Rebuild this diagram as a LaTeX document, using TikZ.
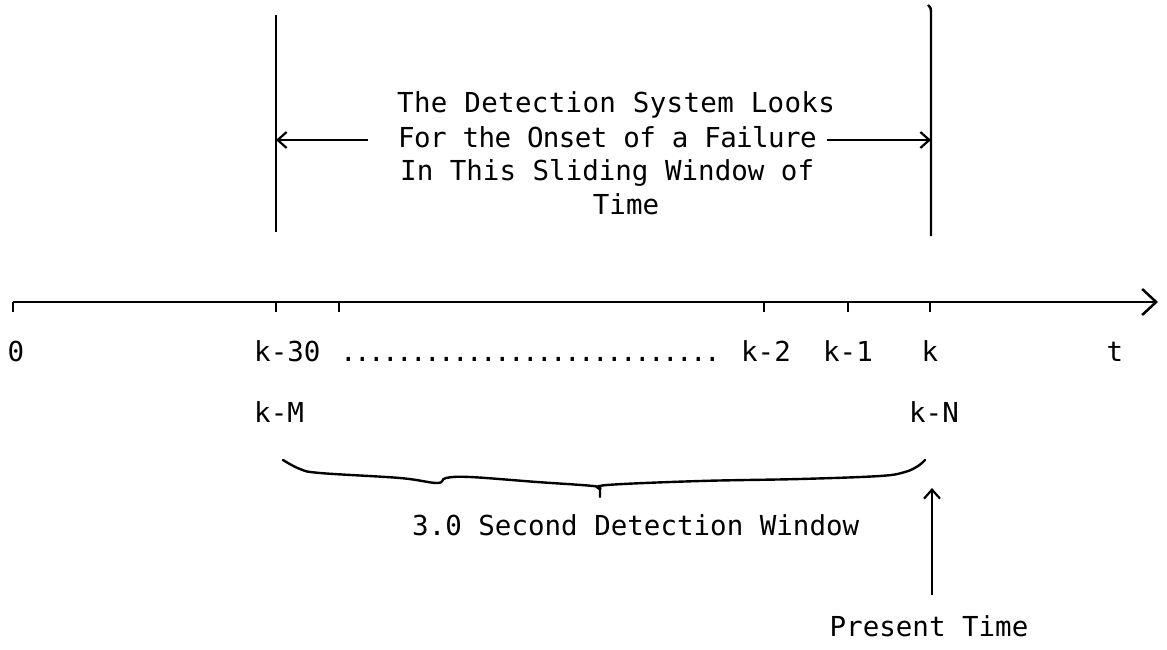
\documentclass[tikz,border=0pt]{standalone}
\usepackage{fontspec}
\setmainfont{DejaVu Sans Mono}
\usetikzlibrary{arrows.meta}
\begin{document}
\begin{tikzpicture}[x=1pt,y=-1pt,
  font=\fontsize{27.5}{35}\selectfont,
  lbl/.style={inner sep=0pt},
  ln/.style={line width=2.4pt},
  barb/.style={line width=2.4pt,-{Straight Barb[length=9pt,width=16pt,line width=2.2pt]}}]
\useasboundingbox (0,0) rectangle (1167,650);

% time axis
\coordinate (a0) at (13,302);
\coordinate (aend) at (1158,302);
\draw[line width=2.8pt,-{Straight Barb[length=14pt,width=26pt,line width=2.5pt]}] (a0) -- (aend);
\foreach \x/\n in {13/t0,276/t30,339/t29,764/t2,848/t1,930/tk}{
  \coordinate (\n) at (\x,302);
  \draw[ln] (\n) -- ++(0,10);
}

% window boundaries
\coordinate (wl0) at (276,15);
\coordinate (wl1) at (276,232);
\coordinate (wr0) at (928,5);
\coordinate (wr1) at (931,236);
\draw[ln] (wl0) -- (wl1);
\draw[ln] (wr0) .. controls (931,8) .. (931,16) -- (wr1);

% description text
\node[lbl,anchor=base west] (l1) at (397,113) {\addfontfeature{LetterSpace=1.2}The Detection System Looks};
\node[lbl,anchor=base west] (l2) at (398,147) {\addfontfeature{LetterSpace=-2.2}For the Onset of a Failure};
\node[lbl,anchor=base west] (l3) at (400,180) {In This Sliding Window of};
\node[lbl,anchor=base] (l4) at (626,214) {Time};

% arrows to the window boundaries
\coordinate (la) at (368,140);
\coordinate (lb) at (276,140);
\coordinate (ra) at (827,140);
\coordinate (rb) at (931,140);
\draw[barb] (la) -- (lb);
\draw[barb] (ra) -- (rb);

% axis labels
\node[lbl,anchor=base] (z) at (16,361) {0};
\node[lbl,anchor=base west] (k30) at (254,361) {k-30};
\node[lbl,anchor=base west] (dots) at (340,361) {\addfontfeature{LetterSpace=-9.3}...........................};
\node[lbl,anchor=base] (k2) at (766,361) {k-2};
\node[lbl,anchor=base] (k1) at (848,361) {k-1};
\node[lbl,anchor=base] (k) at (930,361) {k};
\node[lbl,anchor=base] (t) at (1115,361) {t};
\node[lbl,anchor=base west] (kM) at (254,422) {k-M};
\node[lbl,anchor=base] (kN) at (934,422) {k-N};

% brace
\coordinate (bl) at (283,460);
\coordinate (btip) at (600,497);
\coordinate (br) at (925,460);
\draw[line width=2.4pt,line join=round,line cap=round]
  plot[smooth,tension=0.6] coordinates {(283,460) (300,469) (320,473) (400,478) (437,483) (446,478) (470,477) (537,482) (593,486) (600,489)}
  -- (btip);
\draw[line width=2.4pt,line join=round,line cap=round]
  plot[smooth,tension=0.6] coordinates {(600,489) (607,485) (700,481) (800,479) (880,476) (905,472) (918,466) (925,460)};

\node[lbl,anchor=base west] (win) at (412,535) {3.0 Second Detection Window};

% present time
\coordinate (pa) at (932,595);
\coordinate (pb) at (932,488);
\draw[barb] (pa) -- (pb);
\node[lbl,anchor=base] (pt) at (929,636) {Present Time};
\end{tikzpicture}
\end{document}
